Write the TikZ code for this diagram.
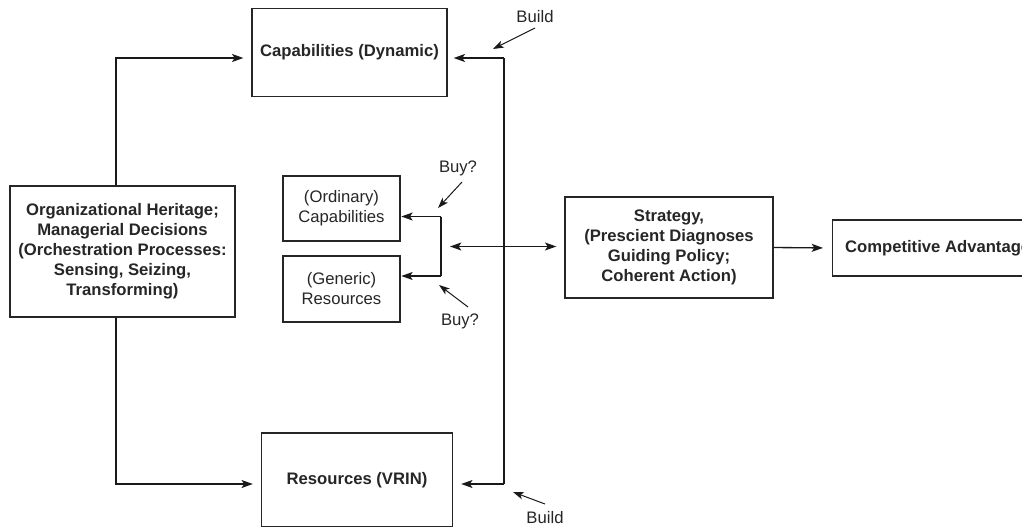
\documentclass[tikz,border=0pt]{standalone}
\usepackage{fontspec}
\setmainfont{Liberation Sans}
\usetikzlibrary{arrows.meta,calc}

\begin{document}
\begin{tikzpicture}[x=0.75pt,y=-0.75pt,
  every node/.style={font=\fontsize{12.5}{15}\selectfont, text=black!85},
  box/.style={draw=black!85, line width=1pt, inner sep=0pt, align=center, font=\fontsize{12.5}{15}\selectfont\bfseries},
  plainbox/.style={box, font=\fontsize{12.5}{15}\selectfont},
  link/.style={draw=black!90, line width=1pt},
  arr/.style={link, -{Stealth[length=8.5pt,width=6pt,inset=2pt]}},
  darr/.style={link, {Stealth[length=8.5pt,width=6pt,inset=2pt]}-{Stealth[length=8.5pt,width=6pt,inset=2pt]}},
  note/.style={draw=black!90, line width=0.75pt, -{Stealth[length=8pt,width=5.5pt,inset=2pt]}},
  lbl/.style={inner sep=0pt, font=\fontsize{12.5}{15}\selectfont}]

\useasboundingbox (0,0) rectangle (1022,526);
\fill[white] (0,0) rectangle (1022,526);
\clip (0,0) rectangle (1022,526);

% Boxes
\node[box, minimum width=146.25pt, minimum height=66pt] (cap) at (349.5,52.5) {Capabilities (Dynamic)};
\node[box, minimum width=168.75pt, minimum height=98.25pt] (org) at (122.5,251.5)
  {Organizational Heritage;\\Managerial Decisions\\(Orchestration Processes:\\Sensing, Seizing,\\Transforming)};
\node[plainbox, minimum width=87.75pt, minimum height=48.75pt] (ord) at (341.5,208.5) {(Ordinary)\\Capabilities};
\node[plainbox, minimum width=87.75pt, minimum height=49.5pt] (gen) at (341.5,289) {(Generic)\\Resources};
\node[box, minimum width=156pt, minimum height=75.75pt] (strat) at (669,247.5)
  {Strategy,\\(Prescient Diagnoses\\Guiding Policy;\\Coherent Action)};
\node[box, anchor=west, minimum width=157.5pt, minimum height=42pt, align=left, inner xsep=6.5pt] (comp) at (832,248)
  {Competitive Advantage};
\node[box, minimum width=143.25pt, minimum height=70.5pt] (res) at (357,480) {Resources (VRIN)};

% Left feed lines from the heritage box
\draw[arr, shorten >=6pt] ($(org.north)+(-6.5,0)$) |- ($(cap.west)+(0,5.5)$);
\draw[arr, shorten >=6pt] ($(org.south)+(-6.5,0)$) |- ($(res.west)+(0,4)$);

% Right "build" spine
\coordinate (rtop) at (504,58);
\coordinate (rbot) at (504,484);
\draw[link] (rtop) -- (rbot);
\draw[arr, shorten >=4.5pt] (rtop) -- (rtop -| cap.east);
\draw[arr, shorten >=6pt] (rbot) -- (rbot -| res.east);

% "Buy" bracket
\coordinate (bt) at (441,216.5);
\coordinate (bb) at (441,276);
\draw[link] (bt) -- (bb);
\draw[arr, shorten >=0.5pt] (bt) -- (bt -| ord.east);
\draw[arr, shorten >=0.5pt] (bb) -- (bb -| gen.east);

% Strategy links
\coordinate (bk) at (441,246.5);
\draw[darr, shorten <=6.75pt, shorten >=6pt] (bk) -- (bk -| strat.west);
\draw[arr, shorten >=6.75pt] (strat.east) -- (comp.west);

% Annotations
\node[lbl] (build1) at (535,17) {Build};
\coordinate (b1) at (493,49);
\draw[note] (535,28) -- (b1);

\node[lbl] (build2) at (545,518) {Build};
\coordinate (b2) at (513,492);
\draw[note] (545,504) -- (b2);

\node[lbl] (buy1) at (458,168) {Buy?};
\coordinate (u1) at (438,208);
\draw[note] (462,182) -- (u1);

\node[lbl] (buy2) at (460,321) {Buy?};
\coordinate (u2) at (439,285);
\draw[note] (468,307) -- (u2);

\end{tikzpicture}
\end{document}
